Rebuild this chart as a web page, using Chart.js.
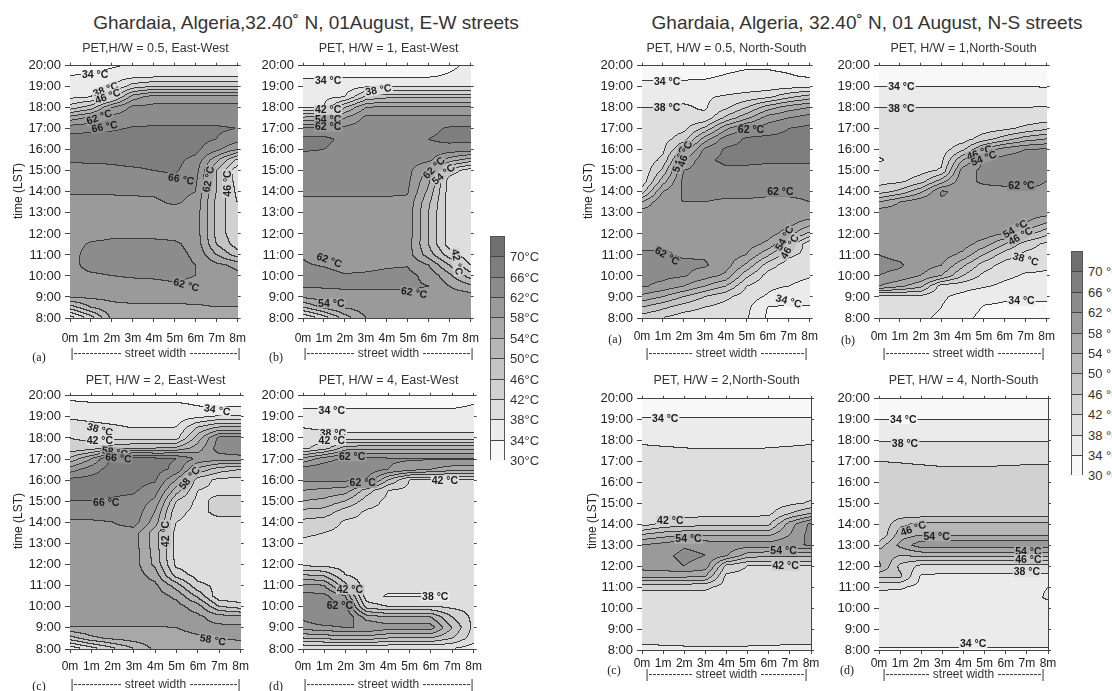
<!DOCTYPE html>
<html>
<head>
<meta charset="utf-8">
<script src="https://cdn.jsdelivr.net/npm/chart.js@4"></script>
<style>
  body { margin: 0; width: 1112px; height: 691px; overflow: hidden; background: #fff; position: relative;
         font-family: "Liberation Sans", Arial, sans-serif; color: #222; }
  .t { position: absolute; white-space: nowrap; transform: translate(-50%, -50%); line-height: 1; }
  canvas { position: absolute; }
  .bar { position: absolute; border: 1px solid #555; box-sizing: border-box; }
  .bar div { box-sizing: border-box; border-bottom: 1px solid #444; }
  .bar div:last-child { border-bottom: none; }
</style>
</head>
<body>
<script>
// grid rows (top to bottom) and columns of every PET field
const timeRows = [20, 19.5, 19, 18.5, 18, 17.5, 17, 16.5, 16, 15.5, 15, 14.5, 14, 13.5, 13, 12.5, 12, 11.5, 11, 10.5, 10, 9.5, 9, 8.5, 8];
const widthCols = [0, 1, 2, 3, 4, 5, 6, 7, 8];

// contour levels and band shades, lowest band first
const levels = [30, 34, 38, 42, 46, 50, 54, 58, 62, 66, 70];
const bandFill = ['#f8f8f8', '#ebebeb', '#dedede', '#d1d1d1', '#c4c4c4', '#b6b6b6', '#a8a8a8', '#9a9a9a', '#8c8c8c', '#7e7e7e', '#6f6f6f'];

// PET (deg C), East-West streets
const ewHalf = [
  [31, 32, 33.5, 34.5, 35, 35, 35, 35.5, 35.5],
  [34, 35, 35.5, 36.5, 37, 37, 37, 37, 37],
  [35.5, 36, 38, 44, 46, 46, 46, 46, 46],
  [37, 38, 44, 56, 60, 60, 60, 60, 60],
  [44, 48, 58, 63, 63, 63, 63, 63, 63],
  [56, 59, 63.5, 64.5, 64.5, 64.5, 64.5, 64.5, 64.5],
  [64.5, 65, 65.5, 66.3, 66.5, 66.5, 66.5, 66.5, 66],
  [67.5, 67.5, 67.5, 67.5, 67.5, 67.5, 67.5, 66, 64],
  [67.5, 67.5, 67.5, 67.5, 67.5, 67.5, 67, 63, 58],
  [66.5, 66.5, 66.5, 67, 67, 67, 65, 55, 45],
  [64.5, 65, 65.3, 65.5, 66, 66.5, 64, 50, 39],
  [63.5, 63.5, 64, 64, 64.5, 65, 63, 50, 40],
  [62.5, 62.5, 62.5, 62.5, 62.5, 63, 62, 50, 41],
  [61, 61, 61, 61.3, 61.5, 62.5, 61, 49, 42],
  [60.5, 60.5, 60.5, 60.5, 60.5, 60.8, 60.5, 49, 42.5],
  [60.5, 60.5, 60.5, 60.5, 60.5, 60.5, 60.5, 49, 42.5],
  [60.5, 61, 61.5, 61.5, 61.5, 61, 60.5, 49, 42.5],
  [61, 62.3, 62.5, 62.5, 62.5, 62.5, 61, 50, 44],
  [61, 63, 63.5, 63.5, 63.5, 63, 61.5, 54, 48],
  [61, 63, 63.5, 63.5, 63.5, 63, 62, 59, 57],
  [61, 61.5, 62, 62.3, 62.5, 62.8, 62, 60, 59],
  [60, 61, 61, 61, 61, 61.5, 61, 60, 59.5],
  [58.5, 59, 59, 59, 59, 59.2, 59.3, 59.5, 59.5],
  [48, 54, 57, 57.5, 57.5, 57.5, 57.5, 58, 58],
  [36, 44, 55, 56, 56, 56, 56, 56, 56]
];
const ewOne = [
  [32, 32, 32, 32, 32, 32, 32, 33, 35],
  [33.5, 33.5, 33.5, 33.5, 33.5, 33.5, 33.5, 34.5, 36],
  [35.5, 35.5, 36, 37.5, 37.5, 37.5, 37.5, 37.5, 37.5],
  [36.5, 37, 38, 47, 49, 49, 49, 49, 49],
  [37.5, 38, 50, 58, 59, 59, 59, 59, 59],
  [51, 52, 58, 63, 63, 63, 63, 63, 63],
  [62.5, 62.5, 63, 64, 64, 64, 65, 66.5, 66.5],
  [67, 67, 65, 64, 64, 64, 66, 67, 67],
  [66.5, 66, 64.5, 64, 64, 64, 65, 64.5, 64],
  [64, 64, 64, 64, 64, 64, 63, 56, 52],
  [64, 64, 64, 64, 64, 63.5, 57, 44, 40],
  [63.5, 63.5, 63.5, 63.5, 63.5, 63, 55, 40, 39],
  [62.5, 62.5, 62.5, 62.5, 62.5, 62.5, 53, 40, 39],
  [61.5, 61.5, 61.5, 61.5, 61.5, 61, 51, 40, 39],
  [60.5, 60.5, 60.5, 60.5, 60.5, 60.5, 50, 40, 39],
  [60.5, 60.5, 60.5, 60.5, 60.5, 60.5, 50, 40, 39],
  [60.5, 60.5, 60.5, 60.5, 60.5, 60.5, 50, 40, 39],
  [60.5, 60.5, 60.5, 60.5, 60.5, 60, 50, 40, 39],
  [61.8, 60.5, 60.5, 60.5, 60.5, 60, 52, 44, 39],
  [62.3, 61.8, 61, 61, 61.5, 61.8, 58, 50, 42],
  [63, 63, 62.2, 62.5, 63, 63, 61, 55, 48],
  [62.5, 62.5, 62.5, 62.5, 62.5, 62.5, 62, 58, 55],
  [59, 60, 61, 61, 61, 61, 61, 60, 60],
  [50, 55, 58.5, 60, 60, 60, 60, 60, 60],
  [38, 44, 52, 58, 59, 59, 59, 59, 59]
];
const ewTwo = [
  [33, 33, 33, 33, 33, 33, 33, 33, 33],
  [35, 34.5, 34.5, 34.5, 34.5, 34.5, 34, 33.5, 33.5],
  [37.5, 37, 36.5, 36, 36, 36, 37, 38.5, 38.5],
  [39.5, 39, 38.5, 37.8, 37.8, 38, 46, 50, 50],
  [42, 41, 41, 40, 40, 40.5, 52, 63, 63],
  [43, 44, 48, 50, 50, 51, 56, 64, 66],
  [51, 58, 67, 67.5, 67, 66, 61, 60, 60],
  [60, 64, 68, 68, 67.5, 65, 53, 48, 46],
  [67, 67.5, 67.5, 67.5, 66.5, 58, 44, 41, 41],
  [67, 67, 67, 66.5, 64, 52, 42, 41, 41],
  [66, 66, 65.5, 65, 61, 46, 41, 43, 43],
  [64, 64, 64, 65, 58, 43, 41, 43, 43],
  [61.5, 61.5, 62, 64, 56, 42, 41, 41, 41],
  [60.5, 60.5, 60.5, 60, 52, 40.5, 40, 40, 40],
  [60.5, 60.5, 60.5, 60, 52, 40.5, 40, 40, 40],
  [60.5, 60.5, 60.5, 60, 52.5, 40.5, 40, 40, 40],
  [60.5, 60.5, 60.5, 60, 53, 41, 40, 40, 40],
  [60.5, 60.5, 60.5, 60.3, 56, 44, 40.5, 40, 40],
  [60.5, 60.5, 60.5, 60.5, 59, 52, 43, 41, 41],
  [60, 60, 60, 60.5, 60, 57, 49, 39, 38.5],
  [60, 60, 60, 60, 60, 59.5, 56, 46, 44],
  [60, 60, 60, 60, 60, 60, 59, 56, 55],
  [57.8, 57.8, 57.8, 57.8, 57.8, 58, 59, 59, 59],
  [48, 53, 55, 56, 56.5, 57, 57.5, 58, 58.3],
  [35, 40, 45, 50, 55, 56, 56.5, 57, 57]
];
const ewFour = [
  [32, 32, 32, 32, 32, 32, 32, 32, 33],
  [33.5, 33.5, 33.5, 33.5, 33.5, 33.5, 33.5, 33.5, 34.2],
  [35.5, 35.5, 35.5, 35.5, 35.5, 35.5, 35.5, 35.5, 35.5],
  [37.8, 37, 36.5, 36.5, 36.5, 36.5, 36.5, 36.5, 36.5],
  [40.5, 40, 39.5, 39.5, 39.5, 39.5, 39.5, 39.5, 39.5],
  [41, 44, 52, 53, 53, 53, 53, 53, 53],
  [55, 60, 63, 63, 62.5, 62.5, 62.5, 62.5, 62.5],
  [64, 65, 65, 64.5, 62, 60, 58, 56, 56],
  [63, 63, 63, 62, 50, 42, 42, 42, 42],
  [58, 57, 56, 48, 42, 41, 41, 41, 41],
  [54, 53, 50, 44, 41, 41, 41, 41, 41],
  [49, 48.5, 44, 41.5, 41, 41, 41, 41, 40],
  [45, 44, 41.5, 41, 41, 41, 41, 41, 41],
  [43, 42, 41, 40.5, 40.5, 40.5, 40.5, 40.5, 40.5],
  [41, 40.5, 40.5, 40.5, 40.5, 40.5, 40.5, 40.5, 40.5],
  [40, 40, 40, 40, 40, 40, 40, 40, 40],
  [40.5, 40, 40, 40, 40, 40, 40, 40, 40],
  [50, 49, 42, 40, 40, 40, 40, 40, 40],
  [59, 58, 47, 40, 40, 40, 40, 40, 40],
  [63.5, 63, 58, 39.5, 37.5, 37.5, 37.5, 39, 40],
  [63.5, 64, 63, 44, 42, 42, 42, 41, 40.5],
  [63, 66, 66, 56, 54, 54, 54, 46, 41],
  [60, 61, 62, 62, 60, 60, 60, 50, 41],
  [50, 51, 52, 52, 50, 50, 50, 46, 40],
  [38, 38, 38, 38, 38, 38, 38, 38, 36]
];

// PET (deg C), North-South streets
const nsHalf = [
  [32, 32, 32, 32.5, 33, 33.5, 33.5, 33, 32.5],
  [33.2, 33.2, 33.3, 33.5, 34.2, 34.8, 34.8, 34.3, 33.5],
  [35, 35, 35, 35, 35.5, 36, 36, 36.5, 37],
  [37, 37, 37, 37.5, 38.5, 39.5, 41, 45, 48],
  [38, 38, 38.5, 37.5, 41, 46, 52, 56, 58],
  [39, 39, 39, 39, 47, 53, 60, 62, 64],
  [39.5, 40, 41, 47, 57, 63, 64, 66, 67],
  [40, 40.5, 44, 56, 64, 66.5, 67, 67, 67.5],
  [40, 41, 51, 63, 66.5, 67, 67, 67, 67],
  [39, 43, 58, 65, 67, 67, 66.5, 66.5, 66.5],
  [38.5, 47, 62, 64, 65, 65, 65, 65, 65],
  [39, 52, 63, 63.5, 63.5, 63.5, 63.5, 64, 64],
  [44, 58, 62.5, 63, 63, 63, 62.5, 62.5, 62.5],
  [54, 61.5, 62, 62, 61.5, 61.5, 61.5, 61.5, 62],
  [60, 60.5, 60.5, 60.5, 60.5, 60.5, 60.5, 60.5, 61.5],
  [60.5, 60.5, 60.5, 60.5, 60.5, 60.5, 60.5, 59.5, 56],
  [60.5, 60.5, 60.5, 60.5, 60.5, 60, 60, 56, 49],
  [61, 61.5, 61.5, 61.5, 60.5, 60, 57, 49, 39],
  [62.5, 62.5, 61.5, 61.5, 60.5, 58, 51, 43, 40.5],
  [63, 63, 62.8, 62.5, 60, 53, 44, 40, 39.5],
  [63, 63, 62.5, 60, 57, 47, 40.5, 39, 38.3],
  [62.5, 61, 58, 54, 50, 42, 39, 38, 37],
  [57, 54, 50, 46, 43, 40, 37.5, 35, 35.5],
  [50, 47, 44, 42, 40.5, 39, 34, 33.5, 33.8],
  [44, 42, 40, 39.5, 39.5, 38.5, 33.5, 33, 33]
];
const nsOne = [
  [32, 32, 32, 32, 32, 32, 32, 32, 32],
  [33, 33, 33, 33, 33, 33, 33, 33, 33],
  [34, 34, 34, 34, 34, 34, 34, 34, 33.8],
  [36, 36, 36, 36, 36, 36, 36, 36, 36],
  [38, 38, 38, 38, 38, 38, 38, 38, 38.2],
  [39, 39, 39, 39, 39, 39, 39, 39.5, 40],
  [39.5, 39.5, 39.5, 39.5, 39.5, 40, 41, 43, 45],
  [39.5, 39.5, 39.5, 39.5, 40, 44, 48, 52, 54],
  [39.5, 39.5, 40, 40, 45, 55, 60, 62, 62.5],
  [37.5, 39.5, 40, 41, 54, 62.5, 63.5, 64, 63.5],
  [40, 40, 40.5, 42.5, 60, 63, 64, 64, 64],
  [40.5, 41, 44, 52, 61, 62.5, 63, 63, 62],
  [44, 47, 53, 62.5, 61, 61, 61, 61.5, 61.5],
  [54, 58, 61, 61.5, 61, 61, 61, 61, 61],
  [60.5, 60.5, 60.5, 60.5, 60.5, 60.5, 60.5, 60.5, 60],
  [60.5, 60.5, 60.5, 60.5, 60.5, 60.5, 60.5, 58, 54],
  [60.5, 60.5, 60.5, 60.5, 60.5, 60.5, 58, 52, 47],
  [60.5, 60.5, 60.5, 60.5, 60, 56, 50, 44, 41],
  [62, 61, 60.5, 60, 57, 50, 44, 41, 40.5],
  [63, 62.5, 60, 58, 51, 44, 40.5, 39.5, 38.5],
  [62, 61, 58, 54, 46, 41, 39, 37.5, 37.5],
  [58, 55, 51, 40, 39.5, 38.5, 37, 36, 36],
  [40, 40, 41, 38.5, 37, 35, 34.5, 34.3, 34.5],
  [39, 39, 39, 38, 36, 33.8, 33.5, 33.5, 33.5],
  [38.5, 38.5, 38.5, 37.5, 35, 33, 33, 33, 33]
];
const nsTwo = [
  [32, 32, 32, 32, 32, 32, 32, 32, 32],
  [33, 33, 33, 33, 33, 33, 33, 33, 33],
  [34.2, 34.2, 34.2, 34.2, 34.2, 34.2, 34.2, 34.2, 34.2],
  [35.5, 35.5, 35.5, 35.5, 35.5, 35.5, 35.5, 35.5, 35.5],
  [37.5, 37.3, 37.2, 37, 37, 37, 37.2, 37.3, 37.5],
  [38.7, 38.5, 38.3, 38.2, 38.2, 38.2, 38.3, 38.5, 38.7],
  [39, 39, 39, 39, 39, 39, 39, 39, 39],
  [39.5, 39.5, 39.5, 39.5, 39.5, 39.5, 39.5, 39.5, 39.5],
  [39.5, 39.5, 39.5, 39.5, 39.5, 39.5, 39.5, 39.5, 39.5],
  [39.8, 39.5, 39.5, 39.5, 39.5, 39.5, 39.5, 39.8, 40.5],
  [41.8, 39.7, 39.7, 39.7, 39.7, 39.7, 39.8, 41, 42.5],
  [40.5, 40.8, 40.8, 40.8, 40.8, 40.8, 41.2, 46, 50],
  [40, 43, 44, 44.5, 45, 45, 45, 56, 63],
  [50, 52, 53, 53, 53, 53, 53, 58, 63.5],
  [58, 59.5, 61.5, 61, 60, 60, 60, 61, 62.5],
  [60, 61, 63, 62, 58.5, 52, 51, 51, 51],
  [60, 60.5, 62, 60.5, 45, 42, 42, 42, 42],
  [55, 55, 55, 54, 41, 40.5, 40.5, 40.5, 40.5],
  [43, 43, 43, 43, 40.5, 40.5, 40.5, 40.5, 41.5],
  [40, 40, 40, 40, 40, 40, 40, 40, 40],
  [40, 40, 40, 40, 40, 40, 40, 40, 40],
  [40, 40, 40, 40, 40, 40, 40, 40, 40],
  [39.5, 39.5, 39.5, 39.5, 39.5, 39.5, 39.5, 39.5, 39.5],
  [39, 39, 39, 39, 39, 39, 39, 39, 39],
  [37, 37.3, 37.5, 37.5, 37.5, 37.5, 37.3, 37.2, 37]
];
const nsFour = [
  [32, 32, 32, 32, 32, 32, 32, 32, 32],
  [33, 33, 33, 33, 33, 33, 33, 33, 33],
  [34, 34, 34, 34, 34, 34, 34, 34, 34],
  [36, 36, 36, 36, 36, 36, 36, 36, 36],
  [37.7, 37.7, 37.7, 37.7, 37.7, 37.7, 37.7, 37.7, 37.7],
  [39.8, 39.8, 39.8, 39.5, 39.5, 39.5, 39.5, 39.8, 39.8],
  [42, 41.8, 41.5, 41, 41, 41, 41.2, 41.5, 41.5],
  [43, 43, 43, 43, 43, 43, 43, 43, 43],
  [43.5, 43.5, 43.5, 43.5, 43.5, 43.5, 43.5, 43.5, 43.5],
  [43.5, 43.5, 43.5, 43.5, 43.5, 43.5, 43.5, 43.5, 43.5],
  [43.5, 43.5, 43.5, 43.5, 43.5, 43.5, 43.5, 43.5, 43.5],
  [43.5, 43.5, 43.5, 43.5, 43.5, 43.5, 43.5, 43.5, 43.5],
  [42, 49, 51, 51, 51, 51, 51, 51, 51],
  [42, 52, 53.5, 53.5, 53.5, 53.5, 53.5, 53.5, 53.5],
  [48, 55, 60.5, 61, 61, 61, 61, 61, 61],
  [53, 50, 51, 51, 51, 51, 51, 51, 51],
  [55, 45, 41, 41, 41, 41, 41, 41, 41],
  [47, 47, 37.5, 37, 37, 37, 37, 37, 37],
  [38.5, 38.5, 37, 36.5, 36.5, 36.5, 36.5, 36.5, 38],
  [37, 36.8, 36.5, 36.5, 36.5, 36.5, 36.5, 36.5, 38.5],
  [36.5, 36.5, 36.5, 36.5, 36.5, 36.5, 36.5, 36.5, 36.5],
  [36.5, 36.5, 36.5, 36.5, 36.5, 36.5, 36.5, 36.5, 36.5],
  [36.5, 36.5, 36.5, 36.5, 36.5, 36.5, 36.5, 36.5, 36.5],
  [36.5, 36.5, 36.5, 36.5, 36.5, 36.5, 36.5, 36.5, 36.5],
  [33.5, 33.5, 33.5, 33.5, 33.5, 33.5, 33.5, 33.5, 33.5]
];

// in-line contour labels: [width m, time h, text, angle deg]
const ewHalfLabels = [[1.2, 19.57, '34 °C', 0], [1.7, 18.87, '38 °C', -20], [1.8, 18.55, '46 °C', -20],
  [1.4, 17.56, '62 °C', -20], [1.65, 17.1, '66 °C', -10], [5.3, 14.6, '66 °C', 10],
  [6.6, 14.6, '62 °C', -80], [7.5, 14.4, '46 °C', -90], [5.55, 9.57, '62 °C', 15]];
const ewOneLabels = [[1.2, 19.3, '34 °C', 0], [3.6, 18.85, '38 °C', -10], [1.2, 17.9, '42 °C', 0],
  [1.2, 17.43, '54 °C', 0], [1.2, 17.1, '62 °C', 0], [6.25, 15.15, '62 °C', -45], [6.7, 14.84, '54 °C', -40],
  [7.35, 10.66, '42 °C', 80], [1.25, 10.75, '62 °C', 20], [5.3, 9.2, '62 °C', 10], [1.35, 8.7, '54 °C', 0]];
const ewTwoLabels = [[6.9, 19.33, '34 °C', 10], [1.4, 18.4, '38 °C', 15], [1.4, 17.9, '42 °C', 0],
  [2.1, 17.33, '58 °C', 10], [2.27, 17.05, '66 °C', 5], [5.6, 16.1, '58 °C', -50], [1.7, 14.94, '66 °C', 0],
  [4.5, 13.45, '42 °C', -90], [6.7, 8.43, '58 °C', 10]];
const ewFourLabels = [[1.35, 19.3, '34 °C', 0], [1.4, 18.23, '38 °C', 0], [1.35, 17.9, '42 °C', 0],
  [2.3, 17.13, '62 °C', 0], [2.8, 15.87, '62 °C', 0], [6.65, 15.98, '42 °C', 0], [2.2, 10.82, '42 °C', 0],
  [1.73, 10.07, '62 °C', 0], [6.2, 10.5, '38 °C', 0]];
const nsHalfLabels = [[1.2, 19.24, '34 °C', 0], [1.2, 18.0, '38 °C', 0], [5.2, 16.95, '62 °C', 0],
  [1.8, 15.55, '54 °C', -72], [2.05, 15.8, '46 °C', -72], [6.6, 14.0, '62 °C', 0], [1.2, 10.95, '62 °C', 30],
  [6.8, 11.8, '54 °C', -60], [7.05, 11.4, '46 °C', -60], [7.0, 8.8, '34 °C', 15]];
const nsOneLabels = [[1.07, 19.0, '34 °C', 0], [1.07, 17.95, '38 °C', 0], [4.8, 15.86, '46 °C', -20],
  [5.0, 15.6, '54 °C', -20], [6.8, 14.28, '62 °C', 0], [6.5, 12.24, '54 °C', -30], [6.75, 11.9, '46 °C', -30],
  [7.0, 10.8, '38 °C', 15], [6.8, 8.82, '34 °C', 0]];
const nsTwoLabels = [[1.1, 19.05, '34 °C', 0], [1.34, 14.2, '42 °C', 0], [2.2, 13.3, '54 °C', 0],
  [6.7, 12.73, '54 °C', 0], [6.8, 12.02, '42 °C', 0]];
const nsFourLabels = [[1.15, 19.02, '34 °C', 0], [1.23, 17.87, '38 °C', 0], [1.62, 13.8, '46 °C', -20],
  [2.73, 13.44, '54 °C', 0], [7.07, 12.7, '54 °C', 0], [7.07, 12.34, '46 °C', 0], [7.0, 11.74, '38 °C', 0],
  [4.46, 8.31, '34 °C', 0]];

const panels = [
  { grid: ewHalf, marks: ewHalfLabels, left: 70, top: 64, w: 171, h: 254, gap: 9, title: 'PET,H/W = 0.5, East-West', tag: '(a)', tagAt: [39, 357], yTitle: [18, 191], sw: 353 },
  { grid: ewOne, marks: ewOneLabels, left: 303, top: 64, w: 171, h: 254, gap: 9, title: 'PET, H/W = 1, East-West', tag: '(b)', tagAt: [276, 357], sw: 353 },
  { grid: ewTwo, marks: ewTwoLabels, left: 70, top: 394, w: 171, h: 255, gap: 6, title: 'PET, H/W = 2, East-West', tag: '(c)', tagAt: [39, 686], yTitle: [18, 521], sw: 684 },
  { grid: ewFour, marks: ewFourLabels, left: 303, top: 394, w: 171, h: 255, gap: 6, title: 'PET, H/W = 4, East-West', tag: '(d)', tagAt: [276, 686], sw: 684 },
  { grid: nsHalf, marks: nsHalfLabels, left: 642, top: 64, w: 169, h: 254, gap: 7, title: 'PET, H/W = 0.5, North-South', tag: '(a)', tagAt: [615, 339], yTitle: [588, 191], sw: 353, ns: true },
  { grid: nsOne, marks: nsOneLabels, left: 879, top: 64, w: 169, h: 254, gap: 7, title: 'PET, H/W = 1,North-South', tag: '(b)', tagAt: [848, 340], sw: 353, ns: true },
  { grid: nsTwo, marks: nsTwoLabels, left: 642, top: 397, w: 169, h: 253, gap: 2, title: 'PET, H/W = 2,North-South', tag: '(c)', tagAt: [614, 670], yTitle: [592, 521], sw: 674, ns: true },
  { grid: nsFour, marks: nsFourLabels, left: 879, top: 397, w: 169, h: 253, gap: 2, title: 'PET, H/W = 4, North-South', tag: '(d)', tagAt: [847, 670], sw: 674, ns: true }
];

function hexRgb(h) { return [1, 3, 5].map(i => parseInt(h.substr(i, 2), 16)); }
const bandRgb = bandFill.map(hexRgb);
const lineRgb = [58, 58, 58];

function bandOf(v) {
  let b = 0;
  for (let i = 1; i < levels.length; i++) if (v >= levels[i]) b = i;
  return b;
}

// bilinear read of a grid at (street width, time)
function sample(grid, xm, t) {
  const dt = timeRows[0] - timeRows[1], dw = widthCols[1] - widthCols[0];
  const fx = Math.min(Math.max((xm - widthCols[0]) / dw, 0), widthCols.length - 1);
  const fy = Math.min(Math.max((timeRows[0] - t) / dt, 0), timeRows.length - 1);
  const i = Math.min(Math.floor(fx), widthCols.length - 2), j = Math.min(Math.floor(fy), timeRows.length - 2);
  const ax = fx - i, ay = fy - j;
  const r0 = grid[j], r1 = grid[j + 1];
  return (r0[i] * (1 - ax) + r0[i + 1] * ax) * (1 - ay) + (r1[i] * (1 - ax) + r1[i + 1] * ax) * ay;
}

const contourPlugin = {
  id: 'contour',
  beforeDatasetsDraw(chart, args, opts) {
    const { ctx, chartArea: a, scales } = chart;
    const x0 = Math.round(a.left), y0 = Math.round(a.top);
    const w = Math.round(a.right) - x0, h = Math.round(a.bottom) - y0;
    const bands = new Int8Array(w * h);
    for (let py = 0; py < h; py++) {
      const t = scales.y.getValueForPixel(y0 + py + 0.5);
      for (let px = 0; px < w; px++) {
        const xm = scales.x.getValueForPixel(x0 + px + 0.5);
        bands[py * w + px] = bandOf(sample(opts.grid, xm, t));
      }
    }
    const img = ctx.createImageData(w, h);
    for (let py = 0; py < h; py++) {
      for (let px = 0; px < w; px++) {
        const k = py * w + px, b = bands[k];
        const edge = (px < w - 1 && bands[k + 1] !== b) || (py < h - 1 && bands[k + w] !== b);
        const c = edge ? lineRgb : bandRgb[b];
        img.data[k * 4] = c[0]; img.data[k * 4 + 1] = c[1]; img.data[k * 4 + 2] = c[2]; img.data[k * 4 + 3] = 255;
      }
    }
    ctx.putImageData(img, x0, y0);
  },
  afterDatasetsDraw(chart, args, opts) {
    const { ctx, scales } = chart;
    ctx.save();
    ctx.font = 'bold 10.5px "Liberation Sans", Arial, sans-serif';
    ctx.textAlign = 'center';
    ctx.textBaseline = 'middle';
    opts.marks.forEach(([xm, t, text, ang]) => {
      const px = scales.x.getPixelForValue(xm), py = scales.y.getPixelForValue(t);
      const tw = ctx.measureText(text).width;
      ctx.save();
      ctx.translate(px, py);
      ctx.rotate(ang * Math.PI / 180);
      ctx.fillStyle = bandFill[bandOf(sample(opts.grid, xm, t))];
      ctx.fillRect(-tw / 2 - 1, -5, tw + 2, 10);
      ctx.fillStyle = '#1c1c1c';
      ctx.fillText(text, 0, 0.5);
      ctx.restore();
    });
    ctx.restore();
  }
};

Chart.defaults.font.family = '"Liberation Sans", Arial, sans-serif';
Chart.defaults.color = '#222';

const Y_W = 62, R_W = 14, T_H = 10, B_H = 40;

function axisSet(p) {
  const grid = { drawOnChartArea: false, color: '#444', tickColor: '#444', tickLength: 4 };
  const border = { color: '#444', width: 1 };
  return {
    x: { type: 'linear', position: 'bottom', min: 0, max: 8, z: 1, grid, border,
         ticks: { stepSize: 1, autoSkip: false, maxRotation: 0, padding: p.gap, font: { size: 12 }, callback: v => v + 'm' },
         afterFit: s => { s.height = B_H; } },
    xTop: { type: 'linear', position: 'top', min: 0, max: 8, z: 1, grid: { ...grid, tickLength: 3 }, border,
            ticks: { stepSize: 1, display: false }, afterFit: s => { s.height = T_H; } },
    y: { type: 'linear', position: 'left', min: 8, max: 20, z: 1, grid: { ...grid, tickLength: 5 }, border,
         ticks: { stepSize: 1, autoSkip: false, padding: 4, font: { size: 13 }, callback: v => v + ':00' },
         afterFit: s => { s.width = Y_W; } },
    yRight: { type: 'linear', position: 'right', min: 8, max: 20, z: 1, grid: { ...grid, tickLength: 3 }, border,
              ticks: { stepSize: 1, display: false }, afterFit: s => { s.width = R_W; } }
  };
}

function text(str, x, y, style) {
  const d = document.createElement('div');
  d.className = 't';
  d.textContent = str;
  d.style.left = x + 'px';
  d.style.top = y + 'px';
  Object.assign(d.style, style || {});
  document.body.appendChild(d);
  return d;
}

text('Ghardaia, Algeria,32.40˚ N, 01August, E-W streets', 306, 22, { fontSize: '19px', color: '#333' });
text('Ghardaia, Algeria, 32.40˚ N, 01 August, N-S streets', 867, 22, { fontSize: '19px', color: '#333' });

panels.forEach(p => {
  const cv = document.createElement('canvas');
  cv.width = p.w + Y_W + R_W;
  cv.height = p.h + T_H + B_H;
  cv.style.left = (p.left - Y_W) + 'px';
  cv.style.top = (p.top - T_H) + 'px';
  document.body.appendChild(cv);
  new Chart(cv, {
    type: 'scatter',
    data: { datasets: [] },
    options: {
      responsive: false, animation: false, devicePixelRatio: 1,
      layout: { padding: 0 },
      scales: axisSet(p),
      plugins: { legend: { display: false }, tooltip: { enabled: false },
                 contour: { grid: p.grid, marks: p.marks } }
    },
    plugins: [contourPlugin]
  });
  const cx = p.left + p.w / 2;
  text(p.title, cx, p.top === 64 ? 48 : 380, { fontSize: '12.5px', color: '#333' });
  text(p.tag, p.tagAt[0], p.tagAt[1], { fontSize: '12px', fontFamily: '"Liberation Serif", serif' });
  const dash = p.ns ? '-----------' : '------------';
  text('|' + dash + ' street width ' + dash + '|', cx, p.sw, { fontSize: '12px', color: '#333' });
  if (p.yTitle) text('time (LST)', p.yTitle[0], p.yTitle[1], { fontSize: '12px', transform: 'translate(-50%,-50%) rotate(-90deg)' });
});

// colour bars
function colourBar(left, top, width, bandH, unit, labelX) {
  const bar = document.createElement('div');
  bar.className = 'bar';
  bar.style.left = left + 'px';
  bar.style.top = top + 'px';
  bar.style.width = width + 'px';
  bar.style.height = (bandH * bandFill.length) + 'px';
  for (let b = bandFill.length - 1; b >= 0; b--) {
    const d = document.createElement('div');
    d.style.height = bandH + 'px';
    d.style.background = bandFill[b];
    bar.appendChild(d);
  }
  document.body.appendChild(bar);
  levels.slice().reverse().forEach((lv, i) => {
    const el = text(lv + unit, labelX, top + bandH * (i + 1), { fontSize: '13px', color: '#333' });
    el.style.transform = 'translate(0,-50%)';
  });
}
colourBar(490, 236, 15, 20.36, '°C', 510);
colourBar(1071, 251, 12, 20.4, ' °C', 1088);
</script>
</body>
</html>
